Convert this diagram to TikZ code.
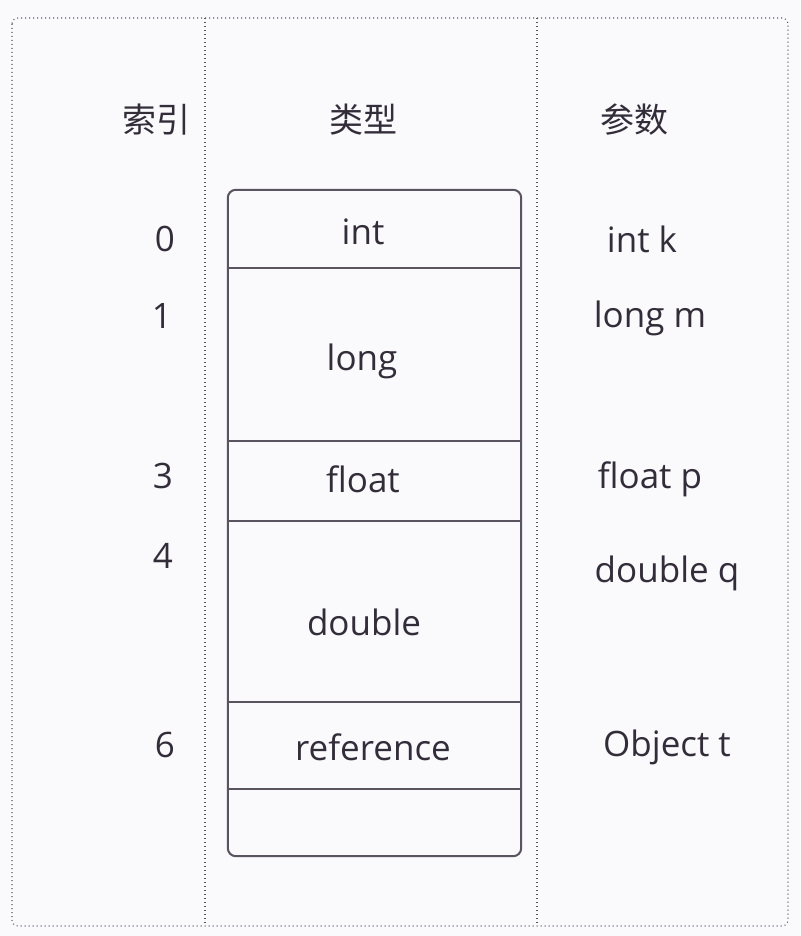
\documentclass[tikz,border=0pt]{standalone}
\usepackage{fontspec}
\setmainfont{Open Sans}
\newfontfamily\cjk{Noto Sans CJK SC}
\definecolor{bgc}{HTML}{FAFAFD}
\definecolor{linec}{HTML}{5A5460}
\definecolor{dotc}{HTML}{55555E}
\definecolor{txtc}{HTML}{332D3A}
\begin{document}
\begin{tikzpicture}[x=1pt,y=-1pt,
  txt/.style={font=\fontsize{35}{38}\selectfont, text=txtc, inner sep=0pt},
  hdr/.style={font=\cjk\fontsize{34}{37}\selectfont, text=txtc, inner sep=0pt},
  cell/.style={minimum width=293pt, inner sep=0pt, draw=none},
  dotline/.style={draw=dotc, line width=1.1pt, dash pattern=on 1pt off 3pt},
  sep/.style={draw=linec, line width=2pt}
]
\useasboundingbox (0,0) rectangle (800,936);
\fill[bgc] (0,0) rectangle (800,936);
% outer dotted frame
\draw[dotline, rounded corners=6pt] (12,18) rectangle (788,926);
\coordinate (c1t) at (205,18);
\coordinate (c1b) at (205,926);
\coordinate (c2t) at (537,18);
\coordinate (c2b) at (537,926);
\draw[dotline] (c1t) -- (c1b);
\draw[dotline] (c2t) -- (c2b);
% headers
\node[hdr] (h1) at (156,120) {索引};
\node[hdr] (h2) at (363,120) {类型};
\node[hdr] (h3) at (634,120) {参数};
% cells
\node[cell, minimum height=78pt]  (cint)  at (374.5,229)   {};
\node[cell, minimum height=173pt] (clong) at (374.5,354.5) {};
\node[cell, minimum height=80pt]  (cflt)  at (374.5,481)   {};
\node[cell, minimum height=181pt] (cdbl)  at (374.5,611.5) {};
\node[cell, minimum height=87pt]  (cref)  at (374.5,745.5) {};
\node[cell, minimum height=67pt]  (cemp)  at (374.5,822.5) {};
\draw[sep, rounded corners=8pt] (cint.north west) rectangle (cemp.south east);
\draw[sep] (cint.south west) -- (cint.south east);
\draw[sep] (clong.south west) -- (clong.south east);
\draw[sep] (cflt.south west) -- (cflt.south east);
\draw[sep] (cdbl.south west) -- (cdbl.south east);
\draw[sep] (cref.south west) -- (cref.south east);
% type labels
\node[txt] (tint)  at (363,232) {int};
\node[txt] (tlong) at (362,361) {long};
\node[txt] (tflt)  at (363,479) {float};
\node[txt] (tdbl)  at (364,622) {double};
\node[txt] (tref)  at (373,747) {reference};
% index labels
\node[txt] (i0) at (165,239) {0};
\node[txt] (i1) at (162,316) {1};
\node[txt] (i3) at (163,476) {3};
\node[txt] (i4) at (163,556) {4};
\node[txt] (i6) at (165,745) {6};
% params
\node[txt] (p0) at (642,239) {int k};
\node[txt] (p1) at (650,318) {long m};
\node[txt] (p3) at (650,479) {float p};
\node[txt] (p4) at (667,573) {double q};
\node[txt] (p6) at (667,747) {Object t};
\end{tikzpicture}
\end{document}
